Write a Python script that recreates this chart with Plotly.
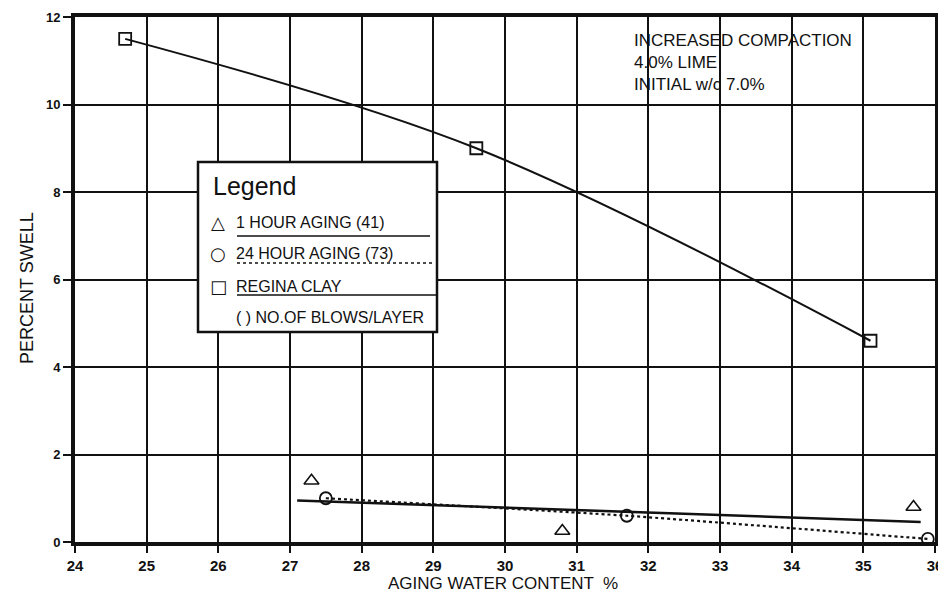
import plotly.graph_objects as go

# ---- data ----
one_hr_x = [27.3, 30.8, 35.7]
one_hr_y = [1.4, 0.25, 0.8]
one_hr_fit_x = [27.1, 35.8]
one_hr_fit_y = [0.95, 0.46]

day_x = [27.5, 31.7, 35.9]
day_y = [1.0, 0.6, 0.07]

regina_x = [24.7, 29.6, 35.1]
regina_y = [11.5, 9.0, 4.6]

x_ticks = list(range(24, 37))
y_ticks = [0, 2, 4, 6, 8, 10, 12]

legend_rows = ["1 HOUR AGING (41)", "24 HOUR AGING (73)", "REGINA CLAY", "( ) NO.OF BLOWS/LAYER"]
legend_syms = ["△", "○", "□", ""]
note_lines = ["INCREASED COMPACTION", "4.0% LIME", "INITIAL w/c 7.0%"]

FONT = "Liberation Sans, Arial, sans-serif"
BLACK = "#111111"

fig = go.Figure()

# Regina clay curve with squares
fig.add_trace(go.Scatter(
    x=regina_x, y=regina_y, mode="lines+markers",
    line=dict(color=BLACK, width=2, shape="spline", smoothing=1.0),
    marker=dict(symbol="square-open", size=12, color=BLACK, line=dict(width=1.8)),
    showlegend=False, hoverinfo="skip"))

# 1 hour aging fit line + triangles
fig.add_trace(go.Scatter(
    x=one_hr_fit_x, y=one_hr_fit_y, mode="lines",
    line=dict(color=BLACK, width=2.5), showlegend=False, hoverinfo="skip"))
fig.add_trace(go.Scatter(
    x=one_hr_x, y=one_hr_y, mode="markers",
    marker=dict(symbol="triangle-up-open", size=13, color=BLACK, line=dict(width=1.6)),
    showlegend=False, hoverinfo="skip"))

# 24 hour aging dotted line + circles
fig.add_trace(go.Scatter(
    x=day_x, y=day_y, mode="lines+markers",
    line=dict(color=BLACK, width=2.2, dash="dot", shape="spline", smoothing=0.6),
    marker=dict(symbol="circle-open", size=12, color=BLACK, line=dict(width=1.8)),
    showlegend=False, hoverinfo="skip"))

# ---- plot-area geometry (window pixels; page body has an 8px margin) ----
OFF = 8
L, R, T, B = 75, 935, 17, 542
W_PX, H_PX = R - L, B - T
FIG_W, FIG_H = 946 - OFF, 597 - OFF


def px2x(px):
    return 24 + (px - L) / (W_PX / 12)


def py2y(py):
    return (B - py) / (H_PX / 12)


shapes = []
annotations = []

shapes.append(dict(type="rect", xref="x", yref="y",
                   x0=px2x(198), x1=px2x(437), y0=py2y(332), y1=py2y(162),
                   line=dict(color=BLACK, width=2.5), fillcolor="white", layer="above"))

annotations.append(dict(xref="x", yref="y", x=px2x(211), y=py2y(186), text="Legend",
                        showarrow=False, xanchor="left", yanchor="middle",
                        font=dict(family=FONT, size=25, color=BLACK)))

row_py = [222, 253, 286, 317]
for sym, txt, py in zip(legend_syms, legend_rows, row_py):
    if sym:
        annotations.append(dict(xref="x", yref="y", x=px2x(218), y=py2y(py), text=sym,
                                showarrow=False, xanchor="center", yanchor="middle",
                                font=dict(family="DejaVu Sans", size=18, color=BLACK)))
    annotations.append(dict(xref="x", yref="y", x=px2x(234), y=py2y(py), text=txt,
                            showarrow=False, xanchor="left", yanchor="middle",
                            font=dict(family=FONT, size=16, color=BLACK)))

underline_specs = [(236, 430, "solid"), (263, 433, "dot"), (295, 436, "solid")]
for py, pxe, dash in underline_specs:
    shapes.append(dict(type="line", xref="x", yref="y",
                       x0=px2x(237), x1=px2x(pxe), y0=py2y(py), y1=py2y(py),
                       line=dict(color=BLACK, width=1.6, dash=dash), layer="above"))

annotations.append(dict(xref="x", yref="y", x=px2x(632), y=py2y(29),
                        text="<br>".join(note_lines), showarrow=False,
                        xanchor="left", yanchor="top", align="left",
                        font=dict(family=FONT, size=17, color=BLACK)))

# axis titles
annotations.append(dict(xref="paper", yref="paper", x=(503 - L) / W_PX, y=(B - 583) / H_PX,
                        text="AGING WATER CONTENT  %", showarrow=False,
                        xanchor="center", yanchor="middle",
                        font=dict(family=FONT, size=17, color=BLACK)))
annotations.append(dict(xref="paper", yref="paper", x=(27 - L) / W_PX, y=(B - 288) / H_PX,
                        text="PERCENT SWELL", showarrow=False, textangle=-90,
                        xanchor="center", yanchor="middle",
                        font=dict(family=FONT, size=18, color=BLACK)))

fig.update_layout(
    width=FIG_W, height=FIG_H,
    margin=dict(l=L - OFF, r=FIG_W - (R - OFF), t=T - OFF, b=FIG_H - (B - OFF), autoexpand=False),
    paper_bgcolor="white", plot_bgcolor="white",
    font=dict(family=FONT, color=BLACK),
    shapes=shapes, annotations=annotations,
    showlegend=False,
)

fig.update_xaxes(
    range=[24, 36], tickvals=x_ticks, ticktext=[str(v) for v in x_ticks],
    showgrid=True, gridcolor=BLACK, gridwidth=1.5,
    showline=True, linecolor=BLACK, linewidth=4, mirror=True,
    ticks="outside", ticklen=7, tickwidth=1.5, tickcolor=BLACK,
    tickfont=dict(family=FONT, size=15, color=BLACK, weight="bold"),
    zeroline=False, automargin=False,
)
fig.update_yaxes(
    range=[0, 12], tickvals=y_ticks, ticktext=[str(v) for v in y_ticks],
    showgrid=True, gridcolor=BLACK, gridwidth=1.5,
    showline=True, linecolor=BLACK, linewidth=4, mirror=True,
    ticks="outside", ticklen=8, tickwidth=1.5, tickcolor=BLACK,
    tickfont=dict(family=FONT, size=13, color=BLACK, weight="bold"),
    zeroline=False, automargin=False,
)

fig.write_html("out.html")
